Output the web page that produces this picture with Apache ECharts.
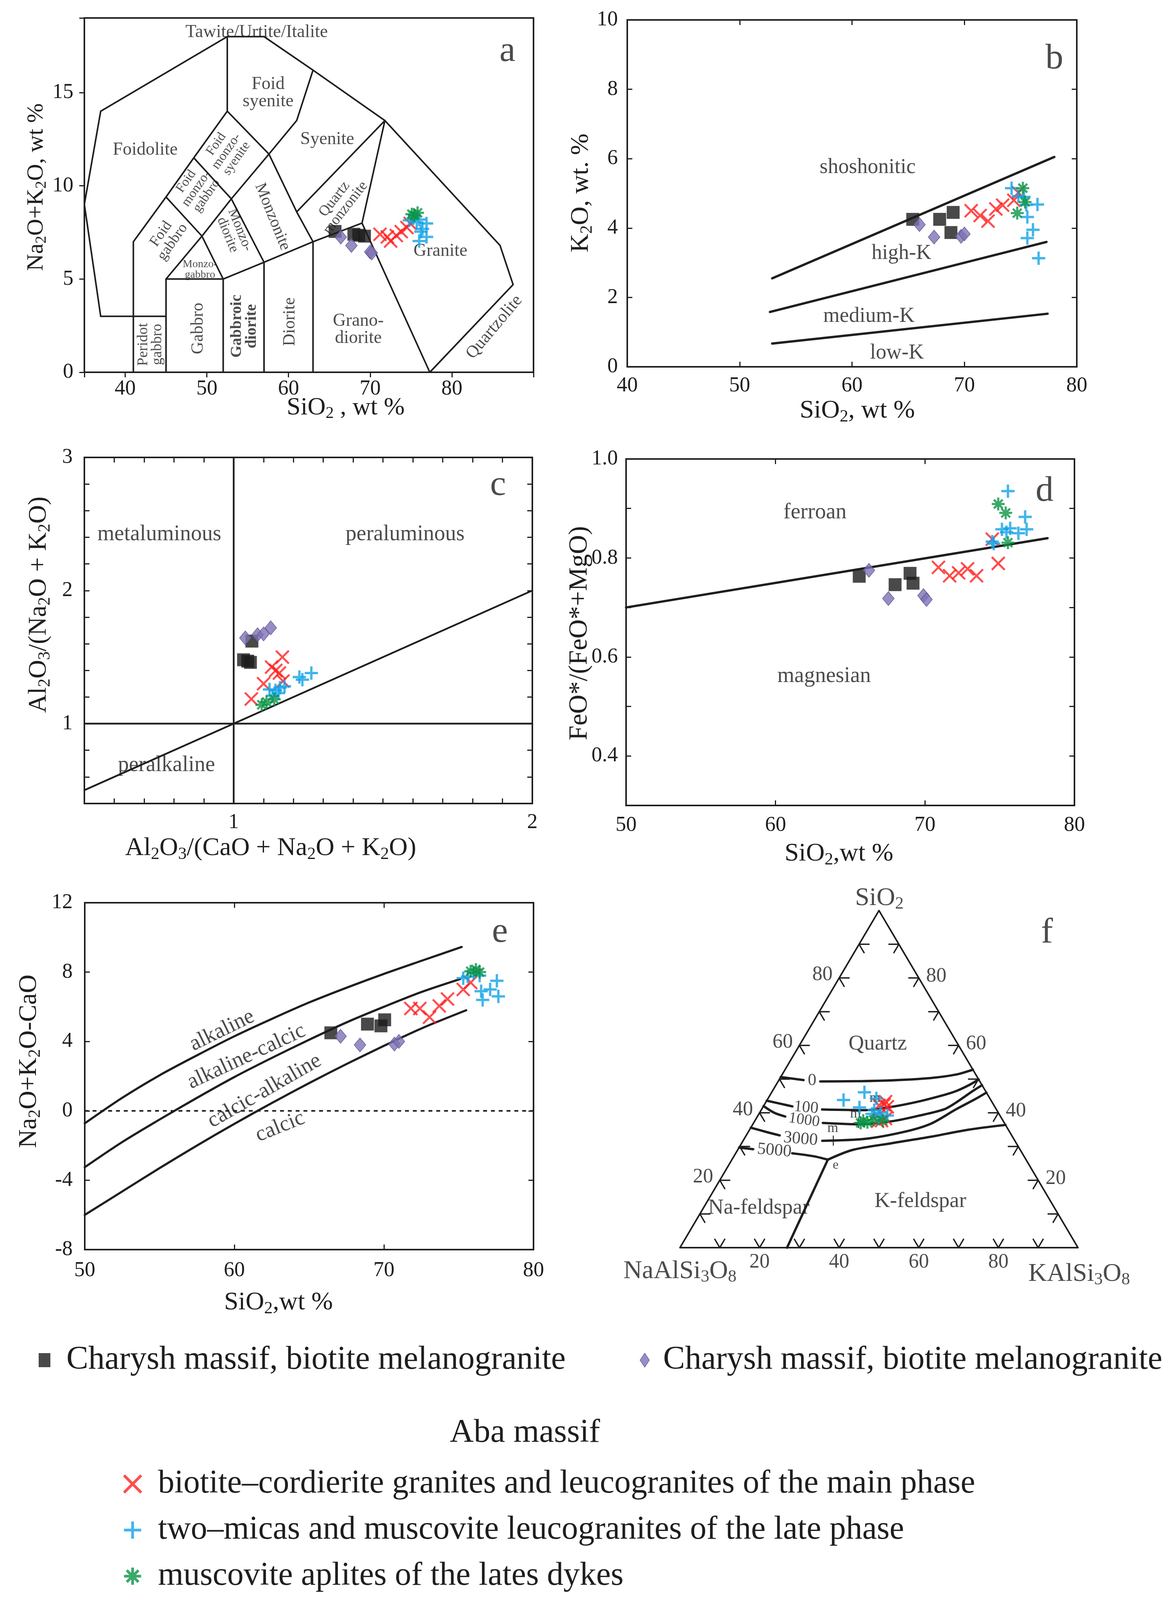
<!DOCTYPE html>
<html>
<head>
<meta charset="utf-8">
<script src="https://cdn.jsdelivr.net/npm/echarts@6.0.0/dist/echarts.min.js"></script>
<style>html,body{margin:0;padding:0;background:#fff}#chart{width:3011px;height:4102px}</style>
</head>
<body>
<div id="chart"></div>
<script>
// ---------------- series names (legend) ----------------
const seriesNames = [
  'Charysh massif, biotite melanogranite',
  'Charysh massif, biotite melanogranite ',
  'biotite\u2013cordierite granites and leucogranites of the main phase',
  'two\u2013micas and muscovite leucogranites of the late phase',
  'muscovite aplites of the lates dykes'
];
const legendHeading = 'Aba massif';

// ---------------- tick labels ----------------
const aXTicks = [40, 50, 60, 70, 80];
const aYTicks = [0, 5, 10, 15];
const bXTicks = [40, 50, 60, 70, 80];
const bYTicks = [0, 2, 4, 6, 8, 10];
const cXTicks = [1, 2];
const cYTicks = [1, 2, 3];
const dXTicks = [50, 60, 70, 80];
const dYTicks = [0.4, 0.6, 0.8, 1.0];
const eXTicks = [50, 60, 70, 80];
const eYTicks = [-8, -4, 0, 4, 8, 12];
const fTickMarks = [10, 20, 30, 40, 50, 60, 70, 80, 90];
const fTickLabels = [20, 40, 60, 80];

// ---------------- panel a: TAS (SiO2, Na2O+K2O) ----------------
const aSquares  = [[65.7,7.55],[68.0,7.4],[68.6,7.35],[69.3,7.3]];
const aDiamonds = [[66.4,7.25],[67.7,6.8],[70.0,6.45],[70.2,6.4]];
const aCrosses  = [[71.2,7.4],[72.1,7.26],[72.5,7.04],[73.2,7.33],[73.8,7.54],[74.5,7.76],[74.9,7.98]];
const aPluses   = [[74.8,8.15],[75.3,8.26],[76.0,8.19],[76.9,7.98],[76.2,7.54],[76.9,7.26],[76.0,7.04],[76.4,7.69],[75.7,8.05]];
const aStars    = [[75.1,8.48],[75.8,8.55],[75.4,8.41]];
const tasBoundaries = [
  [[37,3],[35,9],[37,14],[52.5,18],[57,18],[63,16.2],[71.8,13.5],[85.9,6.8],[87.5,4.7],[77.3,0]],
  [[37,3],[45,3]],
  [[41,0],[41,7],[45,9.4],[48.4,11.5],[52.5,14],[52.5,18]],
  [[45,0],[45,5],[52,5],[57,5.9],[63,7],[69,8],[71.8,13.5]],
  [[45,5],[49.4,7.3],[53,9.3],[57.6,11.7],[61,13.5],[63,16.2]],
  [[45,9.4],[49.4,7.3],[52,5]],
  [[52,0],[52,5]],
  [[57,0],[57,5.9]],
  [[63,0],[63,7]],
  [[48.4,11.5],[53,9.3],[57,5.9]],
  [[52.5,14],[57.6,11.7],[61,8.6],[63,7]],
  [[61,8.6],[71.8,13.5]],
  [[69,8],[77.3,0]]
];
const aNotes = [
  {t:'Tawite/Urtite/Italite', x:56.1, y:18.22, fs:46},
  {t:'Foid\nsyenite', x:57.5, y:14.97, fs:46},
  {t:'Foidolite', x:42.45, y:11.92, fs:46},
  {t:'Syenite', x:64.74, y:12.48, fs:46},
  {t:'Foid\nmonzo-\nsyenite', x:52.4, y:11.85, fs:34, r:55},
  {t:'Foid\nmonzo-\ngabbro', x:48.72, y:9.85, fs:34, r:55},
  {t:'Foid\ngabbro', x:45.1, y:7.2, fs:38, r:55},
  {t:'Monzo-\ngabbro', x:49.16, y:5.5, fs:28},
  {t:'Monzo-\ndiorite', x:53.3, y:7.5, fs:36, r:-68},
  {t:'Monzonite', x:58.03, y:8.34, fs:42, r:-68},
  {t:'Quartz\nmonzonite', x:66.3, y:9.05, fs:38, r:52},
  {t:'Granite', x:78.6, y:6.5, fs:46},
  {t:'Grano-\ndiorite', x:68.55, y:2.28, fs:46},
  {t:'Diorite', x:60.2, y:2.71, fs:44, r:90},
  {t:'Gabbroic\ndiorite', x:54.57, y:2.47, fs:40, r:90, b:true},
  {t:'Gabbro', x:48.94, y:2.35, fs:44, r:90},
  {t:'Peridot\ngabbro', x:43.1, y:1.49, fs:38, r:90},
  {t:'Quartzolite', x:85.2, y:2.42, fs:44, r:50},
  {t:'a', x:86.8, y:17.2, fs:92}
];

// ---------------- panel b: K2O vs SiO2 ----------------
const bSquares  = [[65.4,4.25],[67.8,4.25],[69.0,4.45],[68.8,3.87]];
const bDiamonds = [[66.0,4.1],[67.3,3.74],[69.7,3.76],[70.0,3.83]];
const bCrosses  = [[70.6,4.5],[71.4,4.36],[72.1,4.2],[72.8,4.55],[73.4,4.66],[74.4,4.8],[74.8,5.02]];
const bPluses   = [[74.2,5.15],[74.8,4.92],[75.3,4.9],[75.5,4.67],[75.6,4.32],[76.5,4.68],[76.1,3.95],[75.6,3.71],[76.6,3.13]];
const bStars    = [[75.2,5.15],[75.4,4.75],[74.7,4.43]];
const bBoundaries = [
  [[52.9,2.55],[78.0,6.05]],
  [[52.7,1.58],[77.3,3.6]],
  [[52.9,0.67],[77.4,1.53]]
];
const bNotes = [
  {t:'shoshonitic', x:61.39, y:5.75, fs:54},
  {t:'high-K', x:64.4, y:3.27, fs:54},
  {t:'medium-K', x:61.5, y:1.45, fs:54},
  {t:'low-K', x:64.0, y:0.4, fs:54},
  {t:'b', x:78.0, y:8.88, fs:92}
];

// ---------------- panel c: A/NK vs A/CNK ----------------
const cSquares  = [[1.061,1.62],[1.033,1.48],[1.047,1.47],[1.056,1.46]];
const cDiamonds = [[1.039,1.644],[1.08,1.668],[1.10,1.674],[1.124,1.72]];
const cCrosses  = [[1.059,1.185],[1.10,1.30],[1.127,1.425],[1.141,1.40],[1.153,1.38],[1.163,1.50],[1.165,1.32]];
const cPluses   = [[1.12,1.257],[1.13,1.21],[1.15,1.23],[1.155,1.27],[1.17,1.28],[1.22,1.35],[1.23,1.33],[1.26,1.38],[1.14,1.25]];
const cStars    = [[1.094,1.142],[1.11,1.163],[1.136,1.183]];
const cBoundaries = [
  [[1,0.4],[1,3]],
  [[0.5,1],[2,1]],
  [[0.5,0.5],[2,2]]
];
const cNotes = [
  {t:'metaluminous', x:0.751, y:2.42, fs:56},
  {t:'peraluminous', x:1.574, y:2.42, fs:56},
  {t:'peralkaline', x:0.775, y:0.687, fs:56},
  {t:'c', x:1.885, y:2.79, fs:92}
];

// ---------------- panel d: FeO*/(FeO*+MgO) vs SiO2 ----------------
const dSquares  = [[65.6,0.763],[68.0,0.746],[69.0,0.769],[69.2,0.749]];
const dDiamonds = [[66.25,0.775],[67.55,0.718],[69.9,0.724],[70.1,0.716]];
const dCrosses  = [[70.9,0.781],[71.65,0.764],[72.25,0.77],[72.85,0.778],[73.45,0.764],[74.9,0.789],[74.5,0.838]];
const dPluses   = [[75.55,0.935],[76.7,0.883],[75.15,0.858],[75.7,0.86],[76.25,0.85],[76.8,0.858],[74.5,0.833],[75.45,0.852],[74.6,0.829]];
const dStars    = [[74.9,0.909],[75.4,0.891],[75.55,0.831]];
const dBoundaries = [
  [[50,0.70],[78.2,0.84]]
];
const dNotes = [
  {t:'ferroan', x:62.64, y:0.892, fs:56},
  {t:'magnesian', x:63.25, y:0.561, fs:56},
  {t:'d', x:78.0, y:0.935, fs:92}
];

// ---------------- panel e: MALI vs SiO2 ----------------
const eSquares  = [[66.45,4.5],[68.9,5.0],[69.8,4.9],[70.05,5.25]];
const eDiamonds = [[67.1,4.3],[68.4,3.8],[70.7,3.85],[71.0,4.0]];
const eCrosses  = [[71.8,5.9],[72.4,5.9],[73.05,5.4],[73.7,6.05],[74.25,6.45],[75.3,7.0],[75.8,7.4]];
const ePluses   = [[75.3,7.65],[76.0,7.95],[76.4,7.8],[76.5,6.9],[77.1,7.0],[77.55,7.5],[76.6,6.4],[77.65,6.6],[75.6,7.75]];
const eStars    = [[75.8,8.05],[76.15,8.15],[76.4,8.0]];
const eBoundaries = [
  [[50,-0.72],[52.5,0.75],[55,2.05],[57.5,3.2],[60,4.3],[62.5,5.3],[65,6.25],[67.5,7.1],[70,7.9],[72.5,8.65],[75.2,9.45]],
  [[50,-3.25],[52.5,-1.8],[55,-0.5],[57.5,0.75],[60,1.95],[62.5,3.05],[65,4.1],[67.5,5.1],[70,6.0],[72.5,6.85],[75.1,7.6]],
  [[50,-6.0],[52.5,-4.65],[55,-3.3],[57.5,-2.0],[60,-0.75],[62.5,0.45],[65,1.6],[67.5,2.7],[70,3.75],[72.5,4.75],[75.5,5.8]]
];
const eZeroLine = [[50,0],[80,0]];
const eNotes = [
  {t:'alkaline', x:59.18, y:4.63, fs:56, r:26},
  {t:'alkaline-calcic', x:60.81, y:3.12, fs:56, r:25},
  {t:'calcic-alkaline', x:62.02, y:1.14, fs:56, r:30},
  {t:'calcic', x:63.06, y:-0.92, fs:56, r:22},
  {t:'e', x:77.75, y:10.3, fs:92}
];

// ---------------- panel f: Qz-Ab-Or ternary, points as [SiO2 %, KAlSi3O8 %] ----------------
const fCrosses = [[43.3,30.0],[42.4,30.1],[41.8,31.2],[42.2,28.9],[38.3,32.5],[37.7,31.8],[37.5,30.9]];
const fPluses  = [[46.1,23.3],[43.8,19.2],[41.6,24.3],[44.3,27.2],[40.8,28.4],[39.7,28.4],[40.0,30.4],[39.2,32.5],[38.7,30.6]];
const fStars   = [[37.7,27.2],[37.2,28.5],[37.9,29.7],[37.7,32.1],[37.0,26.9]];
const fMinima  = [[31.75,22.65],[36.96,26.4]];
const fTriangle = [[100,0],[0,0],[0,100],[100,0]];
const fBoundaries = [
  [[50.6,0],[49.7,6.2]],
  [[49.3,10.6],[49.5,25.2],[50.3,37.6],[51.4,43.9],[52.8,47.2]],
  [[43.6,0],[42.6,4.3],[41.9,7.3]],
  [[41.0,15.2],[40.8,26.3],[41.8,32.4],[43.3,38.1],[45.3,43.7],[46.4,46.1],[48.2,48.5],[49.9,50.1]],
  [[42.0,0],[40.0,3.7],[38.9,7.0]],
  [[37.0,17.4],[36.6,26.8],[37.5,34.5],[39.1,40.3],[41.0,45.8],[43.0,47.8],[46.4,50.3],[48.2,51.8]],
  [[35.6,0],[34.3,4.6],[33.3,8.4]],
  [[31.7,19.9],[32.3,30.5],[34.4,39.3],[36.8,44.7],[41.0,48.8],[44.1,52.2],[46.0,54.0]],
  [[29.7,0],[29.2,3.8]],
  [[28.0,14.2],[27.1,20.1],[26.1,24.1]],
  [[26.1,24.1],[29.0,28.9],[31.0,37.8],[32.9,46.6],[35.0,55.0],[36.4,63.6]],
  [[26.1,24.1],[0,26.9]]
];
// annotations in triangle-plot coordinates
const fNotes = [
  {t:'SiO_2', x:50.1, y:103.6, fs:66},
  {t:'f', x:92.2, y:93.3, fs:92},
  {t:'Quartz', x:49.7, y:60.4, fs:55},
  {t:'Na-feldspar', x:19.8, y:11.7, fs:55},
  {t:'K-feldspar', x:60.4, y:13.7, fs:55},
  {t:'e', x:39.1, y:24.4, fs:34},
  {t:'0', x:33.2, y:49.5, fs:44},
  {t:'100', x:31.7, y:41.5, fs:42, r:-5},
  {t:'1000', x:31.2, y:37.8, fs:40, r:-8},
  {t:'3000', x:30.3, y:32.2, fs:44, r:-5},
  {t:'5000', x:23.7, y:28.8, fs:44, r:-5},
  {t:'m', x:38.4, y:35.4, fs:36},
  {t:'m', x:44.1, y:39.7, fs:36},
  {t:'m', x:49.0, y:44.3, fs:36},
  {t:'NaAlSi_3O_8', x:0, y:-7.0, fs:66},
  {t:'KAlSi_3O_8', x:100.3, y:-7.8, fs:66}
];

// ---------------- style ----------------
const FONT = 'Liberation Serif';
const INK = '#1e1e1e';
const MARK = [
  {symbol:'rect', symbolSize:33, itemStyle:{color:'#1b1b1b'}},
  {symbol:'diamond', symbolSize:[30,36], itemStyle:{color:'#7e72b4', borderColor:'#574b8c', borderWidth:1.5}},
  {symbol:'path://M0,0L10,10M10,0L0,10', symbolSize:33, itemStyle:{color:'#ff1f1f', borderColor:'#ff1f1f', borderWidth:5}},
  {symbol:'path://M5,0L5,10M0,5L10,5', symbolSize:34, itemStyle:{color:'#13a2e6', borderColor:'#13a2e6', borderWidth:6}},
  {symbol:'path://M5,0L5,10M0,5L10,5M1.6,1.6L8.4,8.4M8.4,1.6L1.6,8.4', symbolSize:33, itemStyle:{color:'#0b9446', borderColor:'#0b9446', borderWidth:5.5}}
];

function sub(s) { return s.replace(/_(\w)/g, '{s|$1}'); }
function subRich(fs) { return {s:{fontSize:Math.round(fs*0.66), fontFamily:FONT, color:INK, fill:INK, padding:[Math.round(fs*0.45),0,0,0]}}; }
const tern = ([q, or]) => [or + q / 2, q];

const option = {
  animation:false, backgroundColor:'#ffffff', textStyle:{fontFamily:FONT},
  grid:[], xAxis:[], yAxis:[], series:[], legend:[], graphic:[]
};

function fmtFrom(list, digits) {
  return v => {
    const h = list.find(t => Math.abs(t - v) < 1e-6);
    return h === undefined ? '' : (digits ? h.toFixed(digits) : String(h));
  };
}
function axis(gi, pos, c, main) {
  const a = {
    type:'value', gridIndex:gi, position:pos, min:c.min, max:c.max,
    axisLine:{show:false, onZero:false}, splitLine:{show:false},
    axisTick:{show:true, inside:c.inside !== false, length:13, lineStyle:{color:INK, width:3}},
    axisLabel:{show:main, margin:c.margin, fontSize:54, fontFamily:FONT, color:INK,
               formatter:fmtFrom(c.ticks, c.digits), showMinLabel:true, showMaxLabel:true}
  };
  if (c.interval !== undefined) a.interval = c.interval;
  if (c.splitNumber !== undefined) a.splitNumber = c.splitNumber;
  return a;
}
function panel(rect, xc, yc, mirror, hidden) {
  const gi = option.grid.length;
  option.grid.push(Object.assign({show:!hidden, borderColor:INK, borderWidth:4, backgroundColor:'rgba(0,0,0,0)'}, rect));
  const xi = option.xAxis.length, yi = option.yAxis.length;
  const xa = axis(gi, 'bottom', xc, true), ya = axis(gi, 'left', yc, true);
  if (hidden) { xa.show = false; ya.show = false; }
  option.xAxis.push(xa); option.yAxis.push(ya);
  if (mirror) { option.xAxis.push(axis(gi, 'top', xc, false)); option.yAxis.push(axis(gi, 'right', yc, false)); }
  return {xi, yi};
}
function lines(idx, polylines, width, extra) {
  polylines.forEach(pl => option.series.push(Object.assign({
    type:'line', xAxisIndex:idx.xi, yAxisIndex:idx.yi, data:pl, symbol:'none', showSymbol:false,
    silent:true, clip:false, z:2, lineStyle:{color:INK, width:width, cap:'round', join:'round'}
  }, extra || {})));
}
function marks(idx, groups) {
  groups.forEach((pts, k) => {
    if (!pts || !pts.length) return;
    option.series.push(Object.assign({
      type:'scatter', name:seriesNames[k], xAxisIndex:idx.xi, yAxisIndex:idx.yi, data:pts, z:6,
      emphasis:{disabled:true}
    }, MARK[k]));
  });
}
function notes(idx, list) {
  option.series.push({
    type:'scatter', xAxisIndex:idx.xi, yAxisIndex:idx.yi, silent:true, clip:false, z:4,
    symbolSize:1, itemStyle:{color:'rgba(0,0,0,0)'},
    label:{show:true, position:'inside', color:INK, fontFamily:FONT, align:'center', verticalAlign:'middle'},
    data:list.map(n => ({
      value:[n.x, n.y],
      label:{formatter:sub(n.t), rotate:n.r || 0, fontSize:n.fs, fontFamily:FONT, fontWeight:n.b ? 'bold' : 'normal',
             lineHeight:Math.round(n.fs * 0.95), rich:subRich(n.fs)}
    }))
  });
}
function gtext(x, y, t, fs, vertical) {
  return {type:'text', x:x, y:y, rotation:vertical ? Math.PI / 2 : 0, silent:true, z:10,
    style:{text:sub(t), fill:INK, fontSize:fs, fontFamily:FONT, align:'center', verticalAlign:'middle', rich:subRich(fs)}};
}

// ---------------- panels ----------------
const A = panel({left:216, top:46, width:1150, height:907},
  {min:35, max:90, splitNumber:5, ticks:aXTicks, margin:16, inside:false},
  {min:0, max:19, interval:5, ticks:aYTicks, margin:28, inside:false}, false);
const B = panel({left:1606, top:51, width:1151, height:888},
  {min:40, max:80, interval:10, ticks:bXTicks, margin:22},
  {min:0, max:10, interval:2, ticks:bYTicks, margin:24}, true);
const C = panel({left:216, top:1171, width:1147, height:886},
  {min:0.5, max:2, interval:0.1, ticks:cXTicks, margin:22},
  {min:0.4, max:3, interval:0.2, ticks:cYTicks, margin:30}, true);
const D = panel({left:1603, top:1175, width:1148, height:887},
  {min:50, max:80, interval:10, ticks:dXTicks, margin:24},
  {min:0.3, max:1.0, interval:0.1, ticks:dYTicks, digits:1, margin:21}, true);
const E = panel({left:217, top:2311, width:1149, height:888},
  {min:50, max:80, interval:10, ticks:eXTicks, margin:27},
  {min:-8, max:12, interval:4, ticks:eYTicks, margin:31}, true);
const F = panel({left:1741, top:2331, width:1019, height:863},
  {min:0, max:100, interval:10, ticks:[]}, {min:0, max:100, interval:10, ticks:[]}, false, true);

// a
lines(A, tasBoundaries, 4);
notes(A, aNotes);
marks(A, [aSquares, aDiamonds, aCrosses, aPluses, aStars]);
// b
lines(B, bBoundaries, 6);
notes(B, bNotes);
marks(B, [bSquares, bDiamonds, bCrosses, bPluses, bStars]);
// c
lines(C, cBoundaries, 4.5);
notes(C, cNotes);
marks(C, [cSquares, cDiamonds, cCrosses, cPluses, cStars]);
// d
lines(D, dBoundaries, 6);
notes(D, dNotes);
marks(D, [dSquares, dDiamonds, dCrosses, dPluses, dStars]);
// e
lines(E, eBoundaries, 5.5, {smooth:0.3});
lines(E, [eZeroLine], 4, {lineStyle:{color:INK, width:4, type:[10,10]}});
notes(E, eNotes);
marks(E, [eSquares, eDiamonds, eCrosses, ePluses, eStars]);
// f
lines(F, [fTriangle.map(tern)], 4);
lines(F, fBoundaries.map(pl => pl.map(tern)), 6, {smooth:0.3});
const L = 2.5;
const chevrons = [];
fTickMarks.forEach(q => {
  chevrons.push([[q, L], [q, 0], [q - L, L]]);                        // left side
  chevrons.push([[q, 100 - q - L], [q, 100 - q], [q - L, 100 - q]]);  // right side
  chevrons.push([[L, q], [0, q], [L, q - L]]);                        // base
});
lines(F, chevrons.map(pl => pl.map(tern)), 3.5);
const fSideNotes = [];
fTickLabels.forEach(q => {
  fSideNotes.push({t:String(q), x:q / 2 - 4.2, y:q + 0.9, fs:52});
  fSideNotes.push({t:String(q), x:100 - q / 2 + 4.4, y:q + 0.5, fs:52});
  fSideNotes.push({t:String(q), x:q, y:-4.3, fs:52});
});
notes(F, fNotes.concat(fSideNotes));
option.series.push({type:'scatter', xAxisIndex:F.xi, yAxisIndex:F.yi, silent:true, z:5, data:fMinima.map(tern),
  symbol:'path://M5,0L5,10M0,5L10,5', symbolSize:26, itemStyle:{color:INK, borderColor:INK, borderWidth:3}});
marks(F, [[], [], fCrosses.map(tern), fPluses.map(tern), fStars.map(tern)]);

// ---------------- axis titles ----------------
option.graphic = [
  gtext(885, 1044, 'SiO_2 , wt %', 64),
  gtext(93, 479, 'Na_2O+K_2O, wt %', 60, true),
  gtext(2195, 1052, 'SiO_2, wt %', 66),
  gtext(1488, 494, 'K_2O, wt. %', 66, true),
  gtext(693, 2172, 'Al_2O_3/(CaO + Na_2O + K_2O)', 66),
  gtext(100, 1548, 'Al_2O_3/(Na_2O + K_2O)', 66, true),
  gtext(2148, 2186, 'SiO_2,wt %', 66),
  gtext(1484, 1621, 'FeO*/(FeO*+MgO)', 68, true),
  gtext(713, 3335, 'SiO_2,wt %', 66),
  gtext(75, 2717, 'Na_2O+K_2O-CaO', 66, true),
  gtext(1344, 3669, legendHeading, 85)
];

// ---------------- legends ----------------
const legendFont = {fontSize:84, fontFamily:FONT, color:INK};
const legendColors = ['#ff1f1f', '#13a2e6', '#0b9446'];
option.legend = [
  {data:[seriesNames[0]], left:99, top:3440, padding:0, itemWidth:30, itemHeight:36,
   itemStyle:{borderWidth:'inherit'}, formatter:n => n.trim(),
   textStyle:Object.assign({padding:[0,0,0,36]}, legendFont)},
  {data:[seriesNames[1]], left:1638, top:3440, padding:0, itemWidth:24, itemHeight:36,
   itemStyle:{borderWidth:'inherit'}, formatter:n => n.trim(),
   textStyle:Object.assign({padding:[0,0,0,30]}, legendFont)},
  {data:[2, 3, 4].map((k, i) => ({name:seriesNames[k],
     itemStyle:{color:legendColors[i], borderColor:legendColors[i], borderWidth:7}})),
   orient:'vertical', left:314, top:3757, padding:0,
   itemGap:34, itemWidth:44, itemHeight:44,
   textStyle:Object.assign({padding:[0,0,0,38]}, legendFont)}
];

const chart = echarts.init(document.getElementById('chart'), null, {renderer:'canvas'});
chart.setOption(option);
</script>
</body>
</html>
